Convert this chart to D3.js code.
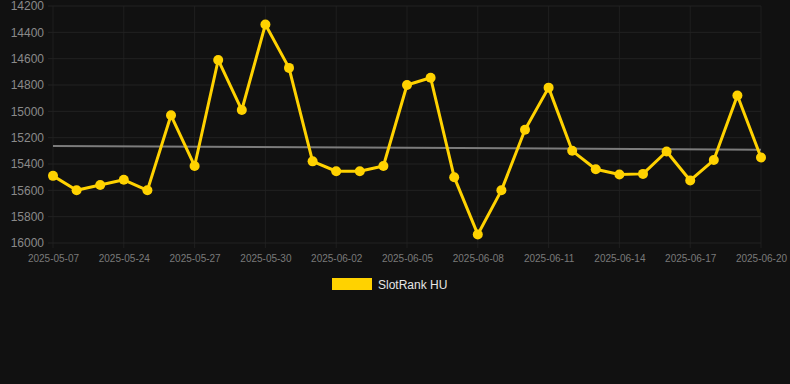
<!DOCTYPE html>
<html>
<head>
<meta charset="utf-8">
<script src="https://cdn.jsdelivr.net/npm/d3@7"></script>
<style>
    html, body { margin: 0; padding: 0; background: #111111; }
    #chart { width: 790px; height: 384px; }
    text { font-family: "Liberation Sans", Arial, sans-serif; }
</style>
</head>
<body>
<div id="chart"></div>
<script>
const dates = [
    '2025-05-07', '2025-05-22', '2025-05-23', '2025-05-24', '2025-05-25', '2025-05-26',
    '2025-05-27', '2025-05-28', '2025-05-29', '2025-05-30', '2025-05-31', '2025-06-01',
    '2025-06-02', '2025-06-03', '2025-06-04', '2025-06-05', '2025-06-06', '2025-06-07',
    '2025-06-08', '2025-06-09', '2025-06-10', '2025-06-11', '2025-06-12', '2025-06-13',
    '2025-06-14', '2025-06-15', '2025-06-16', '2025-06-17', '2025-06-18', '2025-06-19',
    '2025-06-20'
];
const rankValues = [
    15490, 15600, 15560, 15520, 15600, 15030, 15415, 14610, 14990, 14340, 14670, 15380,
    15455, 15455, 15415, 14800, 14745, 15500, 15935, 15600, 15140, 14820, 15300, 15440,
    15480, 15475, 15305, 15525, 15370, 14880, 15350
];
// trend line, start and end value
const trendValues = [15263, 15291];
const yTicks = [14200, 14400, 14600, 14800, 15000, 15200, 15400, 15600, 15800, 16000];
const seriesName = 'SlotRank HU';

class RankChart {

    constructor(selector) {
        this.selector = selector;
        this.width = 790;
        this.height = 384;
        this.color = '#FFD200';
    }

    draw() {
        const svg = d3.select(this.selector).append('svg')
            .attr('width', this.width)
            .attr('height', this.height);

        const x = d3.scalePoint().domain(dates).range([53, 761]);
        const y = d3.scaleLinear().domain([14200, 16000]).range([6, 243]);

        // grid
        const labelDates = dates.filter((d, i) => i % 3 === 0);
        svg.append('g')
            .selectAll('line')
            .data(labelDates)
            .join('line')
            .attr('x1', d => x(d)).attr('x2', d => x(d))
            .attr('y1', 6).attr('y2', 248)
            .attr('stroke', '#1f1f1f');
        svg.append('g')
            .selectAll('line')
            .data(yTicks)
            .join('line')
            .attr('x1', 48).attr('x2', 761)
            .attr('y1', d => y(d)).attr('y2', d => y(d))
            .attr('stroke', '#222222');

        // y axis labels
        const yAxis = svg.append('g')
            .attr('transform', 'translate(44,0)')
            .call(d3.axisLeft(y).tickValues(yTicks).tickSize(0).tickPadding(0).tickFormat(d3.format('d')));
        yAxis.select('.domain').remove();
        yAxis.selectAll('text').attr('fill', '#8a8a8a').attr('font-size', 12);

        // x axis labels
        const xAxis = svg.append('g')
            .attr('transform', 'translate(0,255)')
            .call(d3.axisBottom(x).tickValues(labelDates).tickSize(0).tickPadding(0));
        xAxis.select('.domain').remove();
        xAxis.selectAll('text').attr('fill', '#7a7a7a').attr('font-size', 10);

        // trend
        svg.append('line')
            .attr('x1', x(dates[0])).attr('x2', x(dates[dates.length - 1]))
            .attr('y1', y(trendValues[0])).attr('y2', y(trendValues[1]))
            .attr('stroke', '#7c7c7c')
            .attr('stroke-width', 2);

        const line = d3.line()
            .x((d, i) => x(dates[i]))
            .y(d => y(d));

        svg.append('path')
            .datum(rankValues)
            .attr('fill', 'none')
            .attr('stroke', this.color)
            .attr('stroke-width', 3)
            .attr('stroke-linejoin', 'round')
            .attr('d', line);

        svg.append('g')
            .selectAll('circle')
            .data(rankValues)
            .join('circle')
            .attr('cx', (d, i) => x(dates[i]))
            .attr('cy', d => y(d))
            .attr('r', 5)
            .attr('fill', this.color);

        // legend
        const legend = svg.append('g').attr('transform', 'translate(332,278)');
        legend.append('rect')
            .attr('width', 40).attr('height', 12)
            .attr('fill', this.color);
        legend.append('text')
            .attr('x', 46).attr('y', 10.5)
            .attr('fill', '#e6e6e6')
            .attr('font-size', 12)
            .text(seriesName);
    }
}

new RankChart('#chart').draw();
</script>
</body>
</html>
